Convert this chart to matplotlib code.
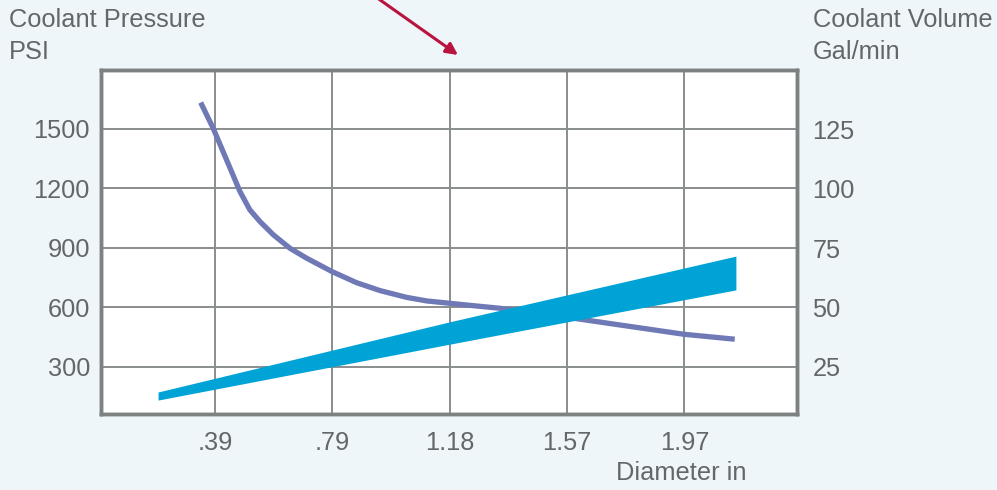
import matplotlib
matplotlib.use("Agg")
import matplotlib.pyplot as plt
from matplotlib.patches import FancyArrowPatch

# ---- data ----
diam_ticks = [0.394, 0.787, 1.181, 1.575, 1.969]
diam_labels = [".39", ".79", "1.18", "1.57", "1.97"]

psi_ticks = [300, 600, 900, 1200, 1500]
gal_ticks = [25, 50, 75, 100, 125]

# coolant pressure curve (PSI)
p_diam = [0.346, 0.388, 0.478, 0.511, 0.545, 0.590, 0.646, 0.702, 0.788, 0.869,
          0.948, 1.037, 1.104, 1.182, 1.261, 1.350, 1.573, 1.967, 2.138]
p_psi = [1633, 1503, 1184, 1092, 1033, 966, 898, 848, 780, 725,
         685, 651, 633, 621, 609, 596, 551, 465, 440]

# coolant volume band (Gal/min)
v_diam = [0.203, 1.182, 2.142]
v_high = [14.5, 44.0, 71.6]
v_low = [11.1, 34.6, 57.4]

# ---- style ----
plt.rcParams['font.family'] = ['Liberation Sans', 'DejaVu Sans']
bg = "#eef6f9"
txt = "#636768"
grid_c = "#8a8d8e"
frame_c = "#7d8182"
purple = "#6f79b6"
cyan = "#00a3d6"
red = "#b8143f"
fs = 18.3

fig = plt.figure(figsize=(9.97, 4.9), dpi=100, facecolor=bg)
ax = fig.add_axes([101 / 997, 76 / 490, 696 / 997, 344 / 490])
ax.set_facecolor("white")

ax.set_xlim(0.0115, 2.347)
ax.set_ylim(63, 1797)

ax.set_xticks(diam_ticks, diam_labels)
ax.set_yticks(psi_ticks)
ax.tick_params(length=0, labelsize=fs, labelcolor=txt)
ax.tick_params(axis="x", pad=12)
ax.tick_params(axis="y", pad=8)
ax.grid(True, color=grid_c, lw=1.4)
ax.set_axisbelow(True)
for s in ax.spines.values():
    s.set_color(frame_c)
    s.set_linewidth(2.5)

ax.plot(p_diam, p_psi, color=purple, lw=3.8, solid_capstyle="butt",
        solid_joinstyle="round", zorder=3)

ax2 = ax.twinx()
ax2.set_ylim(5.25, 149.8)
ax2.set_yticks(gal_ticks)
ax2.tick_params(length=0, labelsize=fs, labelcolor=txt, pad=11)
for s in ax2.spines.values():
    s.set_color(frame_c)
    s.set_linewidth(2.5)
ax2.fill_between(v_diam, v_low, v_high, color=cyan, lw=0, zorder=4)

# axis titles
fig.text(9 / 997, 1 - 20 / 490, "Coolant Pressure", fontsize=fs, color=txt, va="center", ha="left")
fig.text(9 / 997, 1 - 52 / 490, "PSI", fontsize=fs, color=txt, va="center", ha="left")
fig.text(813 / 997, 1 - 20 / 490, "Coolant Volume", fontsize=fs, color=txt, va="center", ha="left")
fig.text(813 / 997, 1 - 52 / 490, "Gal/min", fontsize=fs, color=txt, va="center", ha="left")
fig.text(746 / 997, 1 - 473 / 490, "Diameter in", fontsize=fs, color=txt, va="center", ha="right")

# pointer arrow at the top
arrow = FancyArrowPatch((366 / 997, 1 + 10 / 490), (458 / 997, 1 - 55 / 490),
                        transform=fig.transFigure, arrowstyle="-|>,head_length=7,head_width=3.5",
                        color=red, lw=2.2, shrinkA=0, shrinkB=0)
fig.add_artist(arrow)

fig.savefig("out.png", dpi=100, facecolor=bg)
